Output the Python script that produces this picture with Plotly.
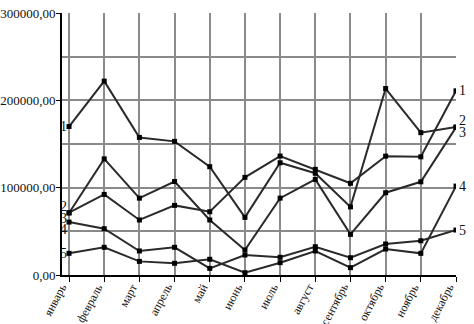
import plotly.graph_objects as go

months = ["январь", "февраль", "март", "апрель", "май", "июнь", "июль",
          "август", "сентябрь", "октябрь", "ноябрь", "декабрь"]

line_a = [170000, 222000, 157500, 153000, 124000, 66000, 128500, 116500, 78000, 213500, 163000, 169500]
line_b = [71000, 133000, 88000, 107000, 63000, 28600, 88000, 109500, 46500, 94200, 106700, 169000]
line_c = [71300, 92300, 63000, 79700, 72400, 111800, 136200, 121000, 105000, 136100, 135300, 210900]
line_d = [60600, 53000, 27500, 31700, 7600, 22900, 20300, 32400, 19800, 35500, 39200, 51500]
line_e = [24800, 31700, 15600, 13400, 18000, 2600, 14100, 27500, 8400, 29700, 24800, 101800]

series = [line_a, line_b, line_c, line_d, line_e]

FONT = "Liberation Serif"
LINE_COLOR = "#2a2a2a"
GRID_COLOR = "#8a8a8a"

fig = go.Figure()
for vals in series:
    fig.add_trace(go.Scatter(
        x=list(range(len(months))), y=vals, mode="lines+markers",
        line=dict(color=LINE_COLOR, width=2),
        marker=dict(symbol="square", size=5, color="#000000"),
        showlegend=False, hoverinfo="skip"))

left_labels = [("1", line_a[0], 0), ("2", line_b[0], 6), ("3", line_c[0], -6),
               ("4", line_d[0], -7), ("5", line_e[0], 0)]
right_labels = [("1", line_c[-1], 0), ("2", line_a[-1], 6), ("3", line_b[-1], -5),
                ("4", line_e[-1], 0), ("5", line_d[-1], 0)]
for txt, v, ys in left_labels:
    fig.add_annotation(x=0, y=v, text=txt, showarrow=False, xanchor="right",
                       xshift=0, yshift=ys, font=dict(family=FONT, size=14, color="#111"))
for txt, v, ys in right_labels:
    fig.add_annotation(x=len(months) - 1, y=v, text=txt, showarrow=False, xanchor="left",
                       xshift=1, yshift=ys, font=dict(family=FONT, size=14, color="#111"))

# month labels, rotated, ending at their tick
for i, m in enumerate(months):
    fig.add_annotation(x=i, y=0, text=m, showarrow=False, textangle=-62,
                       xanchor="right", yanchor="top", xshift=4, yshift=-3,
                       font=dict(family=FONT, size=12, color="#111"))

fig.update_layout(
    width=474, height=324,
    margin=dict(l=62, r=18, t=13, b=49),
    paper_bgcolor="white", plot_bgcolor="white",
    separators=", ",
    font=dict(family=FONT, size=13, color="#111"),
    xaxis=dict(
        range=[-0.2, 11], tickmode="array", tickvals=list(range(len(months))),
        ticktext=months, showticklabels=False, showgrid=True, gridcolor=GRID_COLOR, gridwidth=1.5,
        showline=True, linecolor="#000", linewidth=2, ticks="outside", ticklen=5,
        tickcolor="#000", zeroline=False, automargin=False),
    yaxis=dict(
        range=[0, 300000], dtick=100000, tickformat=".2f", showgrid=True,
        gridcolor=GRID_COLOR, gridwidth=1.5,
        minor=dict(dtick=50000, showgrid=True, gridcolor=GRID_COLOR, gridwidth=1.5, ticks=""),
        showline=True, linecolor="#000", linewidth=2, ticks="outside", ticklen=4,
        tickcolor="#000", zeroline=False, automargin=False, ticklabelstandoff=-2,
        tickfont=dict(family=FONT, size=13, color="#111")),
)

fig.write_html("out.html", config={"displayModeBar": False},
               post_script="document.body.style.margin='0';document.body.style.overflow='hidden';")
